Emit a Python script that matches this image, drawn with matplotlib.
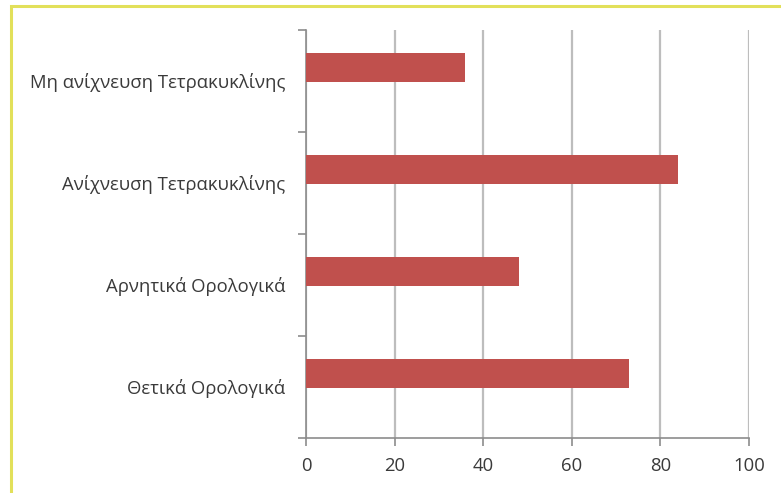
import numpy as np
import matplotlib
matplotlib.use("Agg")
import matplotlib.pyplot as plt
from matplotlib.patches import Rectangle

plt.rcParams["font.family"] = ["Open Sans", "DejaVu Sans"]

categories = [
    "Θετικά Ορολογικά",
    "Αρνητικά Ορολογικά",
    "Ανίχνευση Τετρακυκλίνης",
    "Μη ανίχνευση Τετρακυκλίνης",
]
values = [73, 48, 84, 36]
x_ticks = [0, 20, 40, 60, 80, 100]

fig = plt.figure(figsize=(7.81, 4.93), dpi=100)
ax = fig.add_axes([306 / 781, 1 - 438 / 493, 443 / 781, 408 / 493])

y = np.arange(len(categories))
# bars sit a little above the category centre, like the original Excel chart
ax.barh(y + 0.135, values, height=0.285, color="#c0504d", zorder=3)

ax.set_xlim(0, 100)
ax.set_ylim(-0.5, len(categories) - 0.5)
ax.set_xticks(x_ticks)
ax.set_yticks(y)
ax.set_yticklabels(categories)
ax.set_yticks(np.arange(-0.5, len(categories)), minor=True)

ax.grid(axis="x", color="#bdbdbd", linewidth=1.6, zorder=0)
for s in ["top", "right"]:
    ax.spines[s].set_visible(False)
for s in ["left", "bottom"]:
    ax.spines[s].set_color("#8c8c8c")
    ax.spines[s].set_linewidth(1.2)

ax.tick_params(axis="y", which="major", length=0, pad=15,
               labelsize=13.3, labelcolor="#3a3a3a")
ax.tick_params(axis="y", which="minor", length=6, width=1.2,
               color="#8c8c8c", direction="out")
ax.tick_params(axis="x", length=6, width=1.2, color="#8c8c8c",
               direction="out", pad=8, labelsize=13.3, labelcolor="#3a3a3a")

# yellow frame of the original (only top and left edges visible)
fig.patches.append(Rectangle((11 / 781, -0.1), 1.2, 1 - 5.5 / 493 + 0.1,
                             transform=fig.transFigure, fill=False,
                             edgecolor="#e2e05a", linewidth=2.2))

fig.savefig("out.png", dpi=100)
